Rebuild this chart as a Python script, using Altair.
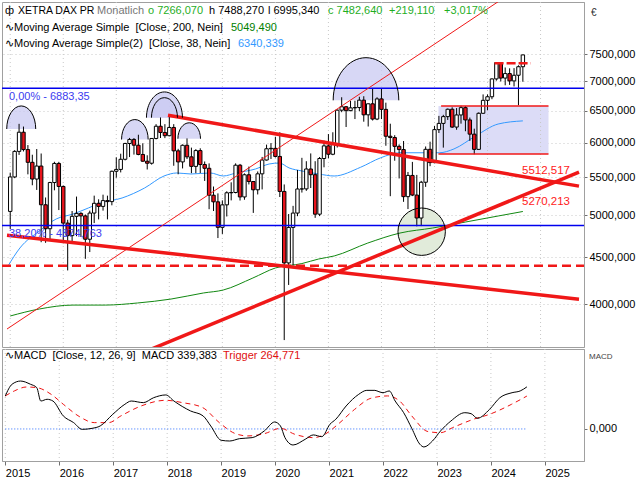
import altair as alt
import pandas as pd

FONT = "Liberation Sans"

# ---------------- data (monthly candles, Jan 2015 .. Sep 2024) ----------------
first_open = 5050
closes = [
    5507, 5872, 6162, 5899, 5713, 5478, 5660, 5135, 4835, 5430, 5697, 5377,
    4904, 4752, 4988, 5025, 4993, 4709, 5029, 5154, 5114, 5189, 5176, 5586,
    5612, 5757, 5990, 6051, 5964, 5827, 5729, 5700, 6066, 6255, 6158, 6108,
    6236, 5880, 5719, 5963, 5792, 5655, 5884, 5681, 5628, 5260, 5173, 4852,
    5134, 5292, 5296, 5672, 5237, 5537, 5444, 5332, 5550, 5746, 5911, 5917,
    5798, 5310, 4437, 4851, 5029, 5343, 5344, 5618, 5538, 5015, 5768, 5954,
    5830, 5983, 6513, 6569, 6505, 6551, 6556, 6679, 6437, 6618, 6369, 6700,
    6526, 6100, 6080, 5947, 5899, 5241, 5528, 5262, 4967, 5434, 5903, 5709,
    6202, 6300, 6408, 6528, 6242, 6435, 6554, 6355, 6132, 5902, 6462, 6676,
    6736, 7045, 7340, 7060, 7140, 7010, 7110, 7264, 7483,
]
highs = [
    5567, 5890, 6293, 6250, 5966, 5823, 5907, 5841, 5230, 5440, 5721, 5720,
    5390, 4945, 5055, 5242, 5040, 5011, 5060, 5254, 5206, 5267, 5254, 5595,
    5786, 5838, 6000, 6074, 6072, 6123, 5993, 5815, 6071, 6288, 6395, 6288,
    6429, 6288, 5910, 5976, 6067, 5928, 5905, 5918, 5725, 5698, 5376, 5284,
    5192, 5312, 5433, 5698, 5690, 5556, 5652, 5449, 5583, 5791, 5973, 5996,
    6092, 6161, 5404, 5017, 5121, 5604, 5778, 5729, 5842, 5729, 5790, 6033,
    6133, 6161, 6525, 6728, 6580, 6666, 6669, 6736, 6745, 6622, 6883, 6728,
    6869, 6637, 6295, 6116, 5976, 6027, 5576, 5719, 5535, 5453, 5945, 6017,
    6261, 6420, 6437, 6540, 6560, 6547, 6586, 6580, 6393, 6217, 6476, 6776,
    6775, 7053, 7345, 7345, 7250, 7235, 7239, 7290, 7488,
]
lows = [
    4832, 5490, 5820, 5871, 5543, 5393, 5330, 4674, 4667, 4705, 5325, 5067,
    4662, 4354, 4680, 4745, 4736, 4483, 4560, 4904, 4950, 5060, 4950, 5128,
    5497, 5570, 5741, 5789, 5825, 5815, 5721, 5611, 5680, 6052, 6073, 6071,
    6099, 5664, 5544, 5626, 5760, 5560, 5560, 5560, 5452, 5078, 5055, 4723,
    4772, 4986, 5192, 5284, 5190, 5200, 5404, 5031, 5270, 5337, 5739, 5761,
    5783, 5236, 3655, 4198, 4409, 4990, 5295, 5318, 5356, 4969, 4991, 5642,
    5772, 5816, 5930, 6480, 6243, 6496, 6369, 6496, 6327, 6251, 6346, 6352,
    6369, 5956, 5247, 5736, 5486, 5173, 5080, 5248, 4864, 4867, 5371, 5658,
    5699, 6150, 5928, 6355, 6229, 6200, 6296, 6177, 6029, 5830, 5898, 6456,
    6513, 6695, 7014, 7000, 6933, 6940, 6913, 6593, 6995,
]

# moving averages (month index, value)
ma38_m = [-0.5, 2.2, 6.6, 10.4, 14.2, 17.7, 20.4, 25.3, 30.4, 34.8, 37.7, 40.9, 45.3, 48.2, 51.1,
          55.5, 58.6, 60.9, 63.1, 66.0, 69.8, 73.3, 79.3, 83.8, 88.2, 97.1, 100.4, 105.3, 110.4, 116]
ma38_v = [4403, 4607, 4808, 4955, 5017, 5094, 5158, 5223, 5356, 5520, 5562, 5548, 5562, 5520, 5562,
          5618, 5689, 5703, 5633, 5590, 5548, 5520, 5643, 5778, 5852, 5852, 5908, 6104, 6290, 6340]
ma200_m = [0, 6.6, 14.2, 21.5, 28.8, 36.4, 43.7, 48.2, 54.9, 60.0, 66.0, 69.8, 73.3, 80.9, 88.2,
           95.6, 103.1, 110.4, 116]
ma200_v = [3883, 3952, 3991, 3991, 4012, 4052, 4114, 4145, 4272, 4381, 4430, 4481, 4515, 4664, 4783,
           4844, 4918, 4992, 5049]

# MACD panel
macd_m = [0, 1.5, 3.4, 5.6, 7.0, 7.9, 9.3, 10.6, 12.9, 15.2, 17.1, 19.3, 21.1, 23.9, 26.6,
          28.0, 30.7, 33.0, 35.7, 37.5, 41.2, 44.0, 45.7, 48.0, 49.9, 52.1, 54.9, 57.6, 59.9, 61.2,
          62.2, 64.0, 66.7, 68.5, 70.4, 72.2, 73.5, 75.8, 78.6, 80.4, 82.2, 83.1, 84.0, 85.4, 86.7,
          88.6, 90.4, 92.2, 93.1, 95.0, 96.8, 99.1, 102.2, 103.6, 105.0, 107.7, 110.0, 112.7, 114.5, 116]
macd_v = [266, 360, 386, 360, 333, 225, 239, 225, 105, 51, -3, 5, 24, 118, 199,
          225, 212, 252, 274, 225, 145, 105, 24, -91, -97, -78, -70, -16, 56, 24,
          -70, -129, -83, -48, -62, 38, 78, 185, 279, 311, 311, 300, 292, 306, 225,
          131, 5, -123, -145, -97, -16, 64, 131, 123, 86, 158, 252, 292, 306, 339]
trig_m = [0, 2.0, 4.7, 7.0, 10.2, 12.9, 16.6, 19.8, 23.0, 25.7, 30.2, 35.7, 39.4, 43.9, 47.6,
          51.2, 53.9, 57.6, 61.2, 64.4, 68.5, 71.3, 74.0, 77.7, 81.3, 85.0, 87.7, 90.4, 94.0, 96.8,
          99.5, 104.1, 107.7, 112.6, 116]
trig_v = [266, 306, 338, 333, 279, 199, 97, 51, 51, 105, 185, 231, 212, 172, 51,
          -38, -56, -38, 5, -43, -70, -38, 38, 158, 247, 266, 225, 105, -21, -30,
          11, 78, 118, 199, 265]

# drawing tools / annotations (month index, price)
fib_v = [6883.35, 4874.763]
fib_t = ["0,00% - 6883,35", "38,20% - 4874,763"]
support_v = 4405
upper_desc_m, upper_desc_v = [35.7, 128.7], [6430, 5381]
lower_desc_m, lower_desc_v = [-0.73, 128.7], [4757, 4050]
ascend_m, ascend_v = [30.4, 128.7], [3548, 5573]
thin_m, thin_v = [-0.73, 128.7], [3758, 9794]
box_m, box_v = [96.9, 121.8], [5834, 6581]
res_m, res_v = [109.6, 117.8], 7330
circle_m, circle_v = 93.1, 4799
arcs = [  # month, baseline price, half-width(px), height ratio
    (2.49, 6212, 14.5, 1.59),
    (28.2, 6050, 13.3, 1.50),
    (34.9, 6391, 18.0, 1.43),
    (34.9, 6391, 13.0, 1.54),
    (40.5, 6062, 11.3, 1.41),
    (80.5, 6676, 32.8, 1.30),
]
line_labels = [(115.8, 5512.517, "5512,517", "bottom", -1), (115.8, 5270.213, "5270,213", "top", 2)]
years = list(range(2015, 2026))
year_m = [(y - 2015) * 12 for y in years]

# ---------------- scales & axes ----------------
W, HM, HD = 582, 345, 112
XS = alt.Scale(domain=[-0.73, 128.7], nice=False, zero=False)
YS = alt.Scale(type="log", domain=[3592, 8547], nice=False)
MS = alt.Scale(domain=[-258, 644], nice=False, zero=False)
RED = "#f01818"
BLUE = "#0000ee"

YAX_MAIN = alt.Axis(
    orient="right", values=[4000, 4500, 5000, 5500, 6000, 6500, 7000, 7500],
    labelExpr="replace(format(datum.value, '.3f'), '.', ',')",
    grid=True, gridDash=[1, 3], gridColor="#c8c8c8", tickSize=3, tickColor="#707070",
    domainColor="#a0a0a0", labelFont=FONT, labelFontSize=11, labelColor="black",
    labelPadding=2, title=None)
XAX_MACD = alt.Axis(
    values=year_m, labelExpr="'' + (2015 + datum.value / 12)", labelAlign="left",
    labelPadding=2, tickSize=4, tickColor="#707070", domainColor="#a0a0a0", grid=False,
    labelFont=FONT, labelFontSize=11, labelColor="black", labelFlush=False,
    labelOverlap=False, title=None)
YAX_MACD = alt.Axis(
    orient="right", values=[0], labelExpr="'0,000'", tickSize=3, tickColor="#707070",
    domainColor="#a0a0a0", labelFont=FONT, labelFontSize=11, labelColor="black",
    labelPadding=2, grid=False, title=None)


def X(f="m", axis=None):
    return alt.X(f"{f}:Q", scale=XS, axis=axis, title=None)


def Y(f="v", scale=YS, axis=YAX_MAIN):
    return alt.Y(f"{f}:Q", scale=scale, axis=axis, title=None)


def txt(text, x, y, color="black", size=11, **kw):
    return alt.Chart(pd.DataFrame({"t": [text]})).mark_text(
        align="left", baseline="middle", font=FONT, fontSize=size, color=color, **kw
    ).encode(x=alt.value(x), y=alt.value(y), text="t:N")


def half_ellipse(h, closed):
    k = 0.5523
    p = (f"M -1 0 C -1 {-k * h:.3f} {-k:.3f} {-h:.3f} 0 {-h:.3f} "
         f"C {k:.3f} {-h:.3f} 1 {-k * h:.3f} 1 0")
    return p + " Z" if closed else p


cdf = pd.DataFrame({"m": list(range(len(closes))), "o": [first_open] + closes[:-1],
                    "h": highs, "l": lows, "c": closes})
ydf = pd.DataFrame({"m": year_m})

# ---------------- main panel ----------------
vgrid = alt.Chart(ydf).mark_rule(color="#c8c8c8", strokeDash=[1, 3]).encode(
    x=X(), y=alt.value(0), y2=alt.value(HM))

box = alt.Chart(pd.DataFrame({"m0": [box_m[0]], "m1": [box_m[1]], "v0": [box_v[0]], "v1": [box_v[1]]})
                ).mark_rect(color="#dcdcf7").encode(x=X("m0"), x2="m1:Q", y=Y("v0"), y2="v1:Q")

cdf_pt = pd.DataFrame({"m": [circle_m], "v": [circle_v]})
circ_size = (2 * 23.7) ** 2
circle_fill = alt.Chart(cdf_pt).mark_point(shape="circle", size=circ_size, filled=True,
                                            fill="#e1ebda", opacity=1, strokeWidth=0).encode(x=X(), y=Y())
circle_line = alt.Chart(cdf_pt).mark_point(shape="circle", size=circ_size, filled=False,
                                            stroke="black", strokeWidth=1, opacity=1).encode(x=X(), y=Y())

arc_fills, arc_lines = [], []
for am, av, s, h in arcs:
    d = pd.DataFrame({"m": [am], "v": [av]})
    arc_fills.append(alt.Chart(d).mark_point(shape=half_ellipse(h, True), size=4 * s * s, filled=True,
                                             fill="#c9c9f2", opacity=0.75, strokeWidth=0).encode(x=X(), y=Y()))
    arc_lines.append(alt.Chart(d).mark_point(shape=half_ellipse(h, False), size=4 * s * s, filled=False,
                                             stroke="black", strokeWidth=1, opacity=1).encode(x=X(), y=Y()))

fdf = pd.DataFrame({"v": fib_v, "t": fib_t, "m": [-0.73, -0.73]})
fib_lines = alt.Chart(fdf).mark_rule(color=BLUE, strokeWidth=1.5).encode(
    y=Y(), x=alt.value(0), x2=alt.value(W))
fib_text = alt.Chart(fdf).mark_text(align="left", baseline="top", dx=2, dy=3, font=FONT,
                                    fontSize=11, color="#3c3cf0").encode(x=X(), y=Y(), text="t:N")

support = alt.Chart(pd.DataFrame({"v": [support_v]})).mark_rule(
    color=RED, strokeWidth=2.5, strokeDash=[9, 5]).encode(y=Y(), x=alt.value(0), x2=alt.value(W))

box_edges = alt.Chart(pd.DataFrame({"m0": [box_m[0], box_m[0] + 0.6], "m1": [box_m[1], box_m[1]],
                                    "v": box_v})).mark_rule(color=RED, strokeWidth=1.5).encode(
    x=X("m0"), x2="m1:Q", y=Y())
res = alt.Chart(pd.DataFrame({"m0": [res_m[0]], "m1": [res_m[1]], "v": [res_v]})).mark_rule(
    color=RED, strokeWidth=2.5, strokeDash=[9, 3]).encode(x=X("m0"), x2="m1:Q", y=Y())

ma200 = alt.Chart(pd.DataFrame({"m": ma200_m, "v": ma200_v})).mark_line(
    color="#118811", strokeWidth=1, interpolate="monotone").encode(x=X(), y=Y())
ma38 = alt.Chart(pd.DataFrame({"m": ma38_m, "v": ma38_v})).mark_line(
    color="#3399ff", strokeWidth=1, interpolate="monotone").encode(x=X(), y=Y())

wicks = alt.Chart(cdf).mark_rule(color="black", strokeWidth=1).encode(x=X(), y=Y("l"), y2="h:Q")
bodies = alt.Chart(cdf).mark_bar(size=3.4, stroke="black", strokeWidth=1).encode(
    x=X(), y=Y("o"), y2="c:Q",
    fill=alt.condition("datum.c >= datum.o", alt.value("white"), alt.value("#e8141c")))


def tline(ms, vs, width):
    return alt.Chart(pd.DataFrame({"m": ms, "v": vs})).mark_line(
        color=RED, strokeWidth=width, clip=True).encode(x=X(), y=Y())


thin = tline(thin_m, thin_v, 1)
t_up = tline(upper_desc_m, upper_desc_v, 3.5)
t_low = tline(lower_desc_m, lower_desc_v, 3.5)
t_asc = tline(ascend_m, ascend_v, 3.5)

lbls = []
for lm, lv, lt, base, dy in line_labels:
    lbls.append(alt.Chart(pd.DataFrame({"m": [lm], "v": [lv], "t": [lt]})).mark_text(
        align="left", baseline=base, dy=dy, font=FONT, fontSize=11.5, color="#ff1a1a").encode(
        x=X(), y=Y(), text="t:N"))

G = "#1fae1f"
header = [
    txt("ф", 3, 9),
    txt("XETRA DAX PR", 16, 9, size=10.5),
    txt("Monatlich", 95, 9, color="#777777"),
    txt("o 7266,070", 146, 9, color=G),
    txt("h 7488,270", 207, 9),
    txt("l 6995,340", 266, 9),
    txt("c 7482,640", 326, 9, color=G),
    txt("+219,110", 387, 9, color=G),
    txt("+3,017%", 442, 9, color=G),
    txt("∿Moving Average Simple\u00a0\u00a0[Close, 200, Nein]", 3, 25.5),
    txt("5049,490", 229, 25.5, color="#008000"),
    txt("∿Moving Average Simple(2)\u00a0\u00a0[Close, 38, Nein]", 3, 41.5),
    txt("6340,339", 236, 41.5, color="#3399ff"),
    txt("€", 589, 11, color="#333333", size=10),
]

main = alt.layer(
    box, vgrid, circle_fill, *arc_fills, ma200, ma38, wicks, bodies,
    fib_lines, support, box_edges, res, thin, t_up, t_low, t_asc,
    *arc_lines, circle_line, fib_text, *lbls, *header,
).properties(width=W, height=HM)

# ---------------- MACD panel ----------------
vgrid2 = alt.Chart(ydf).mark_rule(color="#c8c8c8", strokeDash=[1, 3]).encode(
    x=X(axis=XAX_MACD), y=alt.value(0), y2=alt.value(HD))

zero = alt.Chart(pd.DataFrame({"m0": [0], "m1": [116], "v": [0]})).mark_rule(
    color="#2a6cff", strokeDash=[1, 2], strokeWidth=1).encode(
    x=X("m0", axis=XAX_MACD), x2="m1:Q", y=Y(scale=MS, axis=YAX_MACD))

trig = alt.Chart(pd.DataFrame({"m": trig_m, "v": trig_v})).mark_line(
    color="#ee1111", strokeWidth=1, strokeDash=[5, 4], interpolate="monotone").encode(
    x=X(axis=XAX_MACD), y=Y(scale=MS, axis=YAX_MACD))
macd = alt.Chart(pd.DataFrame({"m": macd_m, "v": macd_v})).mark_line(
    color="black", strokeWidth=1, interpolate="monotone").encode(
    x=X(axis=XAX_MACD), y=Y(scale=MS, axis=YAX_MACD))

macd_header = [
    txt("∿MACD\u00a0\u00a0[Close, 12, 26, 9]\u00a0\u00a0MACD 339,383", 3, 7),
    txt("Trigger 264,771", 221, 7, color="#e01010"),
    txt("MACD", 587, 8, color="#444444", size=8),
]

macd_panel = alt.layer(vgrid2, zero, trig, macd, *macd_header).properties(width=W, height=HD)

chart = alt.vconcat(main, macd_panel, spacing=0).properties(
    padding={"left": 0, "top": 1, "right": 0, "bottom": 0}
).configure(font=FONT).configure_view(stroke="#a0a0a0", strokeWidth=1)

chart.save("out.html", embed_options={"renderer": "svg", "actions": False})
